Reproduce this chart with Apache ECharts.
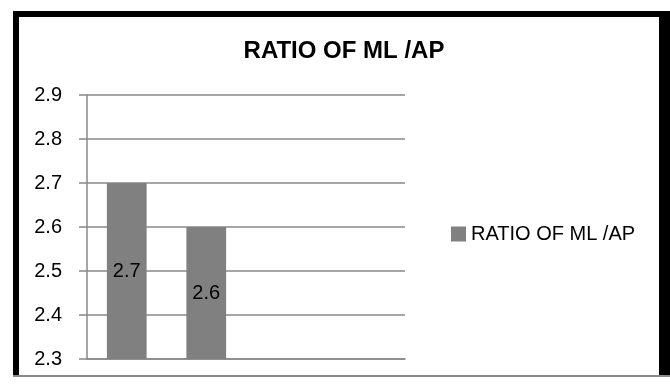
<!DOCTYPE html>
<html>
<head>
<meta charset="utf-8">
<script src="https://cdn.jsdelivr.net/npm/echarts@6/dist/echarts.min.js"></script>
<style>
  html, body { margin: 0; padding: 0; background: #fff; }
  #chart { width: 670px; height: 387px; }
</style>
</head>
<body>
<div id="chart"></div>
<script>
// Chart data
const chartTitle = 'RATIO OF ML /AP';
const seriesName = 'RATIO OF ML /AP';
const categories = ['1', '2', '3', '4'];
const ratioValues = [2.7, 2.6, null, null];
const yTicks = { min: 2.3, max: 2.9, step: 0.1 };

const FONT = '"Liberation Sans", Arial, sans-serif';
const GRID_GREY = '#888888';
const BAR_GREY = '#808080';

const chart = echarts.init(document.getElementById('chart'), null, { renderer: 'canvas' });

chart.setOption({
  backgroundColor: '#ffffff',
  animation: false,
  title: {
    text: chartTitle,
    left: 339,
    textAlign: 'center',
    top: 34,
    textStyle: { fontFamily: FONT, fontWeight: 'bold', fontSize: 24, color: '#000' }
  },
  legend: {
    left: 446,
    top: 219,
    itemWidth: 15,
    itemHeight: 15,
    itemGap: 6,
    icon: 'rect',
    data: [seriesName],
    textStyle: { fontFamily: FONT, fontSize: 20, color: '#000', padding: [0, 0, 0, 0] }
  },
  grid: { left: 87, right: 265, top: 95, bottom: 28, containLabel: false },
  xAxis: {
    type: 'category',
    data: categories,
    boundaryGap: true,
    axisLine: { show: true, lineStyle: { color: GRID_GREY, width: 1.5 } },
    axisTick: { show: false },
    axisLabel: { show: false },
    splitLine: { show: false }
  },
  yAxis: {
    type: 'value',
    min: yTicks.min,
    max: yTicks.max,
    interval: yTicks.step,
    axisLine: { show: true, lineStyle: { color: GRID_GREY, width: 1.5 } },
    axisTick: { show: true, length: 8, lineStyle: { color: GRID_GREY, width: 1.5 } },
    axisLabel: {
      margin: 25,
      fontFamily: FONT,
      fontSize: 20,
      color: '#000',
      formatter: v => v.toFixed(1)
    },
    splitLine: { show: true, lineStyle: { color: GRID_GREY, width: 1.5 } }
  },
  series: [{
    name: seriesName,
    type: 'bar',
    data: ratioValues,
    barWidth: '50%',
    itemStyle: { color: BAR_GREY },
    label: {
      show: true,
      position: 'inside',
      fontFamily: FONT,
      fontSize: 20,
      color: '#000',
      formatter: p => p.value.toFixed(1)
    }
  }],
  graphic: [
    // chart frame
    { type: 'rect', shape: { x: 13, y: 11, width: 6, height: 366 }, style: { fill: '#000' }, silent: true },
    { type: 'rect', shape: { x: 13, y: 11, width: 657, height: 6 }, style: { fill: '#000' }, silent: true },
    { type: 'rect', shape: { x: 659, y: 11, width: 11, height: 366 }, style: { fill: '#000' }, silent: true },
    { type: 'rect', shape: { x: 13, y: 375, width: 657, height: 2 }, style: { fill: '#8a8a8a' }, silent: true }
  ]
});
</script>
</body>
</html>
